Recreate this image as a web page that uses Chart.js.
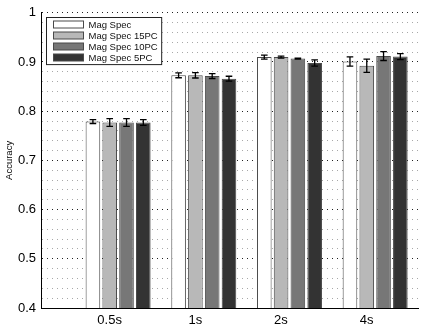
<!DOCTYPE html>
<html><head><meta charset="utf-8">
<script src="https://cdn.jsdelivr.net/npm/chart.js@4"></script>
<style>html,body{margin:0;padding:0;background:#fff;}#wrap{width:425px;height:327px;}</style>
</head><body><div id="wrap"><canvas id="c" width="425" height="327"></canvas></div>
<script>
// ---- data ----
const categories = ['0.5s', '1s', '2s', '4s'];
const seriesNames = ['Mag Spec', 'Mag Spec 15PC', 'Mag Spec 10PC', 'Mag Spec 5PC'];
const magSpec     = [0.779, 0.873, 0.910, 0.901];
const magSpec15PC = [0.777, 0.873, 0.910, 0.8925];
const magSpec10PC = [0.777, 0.8715, 0.907, 0.912];
const magSpec5PC  = [0.777, 0.866, 0.898, 0.911];
const errMagSpec  = [0.004, 0.005, 0.004, 0.0095];
const err15PC     = [0.008, 0.0055, 0.002, 0.0135];
const err10PC     = [0.008, 0.005, 0.001, 0.009];
const err5PC      = [0.006, 0.005, 0.0065, 0.006];
const yTickLabels = ['0.4', '0.5', '0.6', '0.7', '0.8', '0.9', '1'];

const seriesValues = [magSpec, magSpec15PC, magSpec10PC, magSpec5PC];
const seriesErrors = [errMagSpec, err15PC, err10PC, err5PC];
const fills = ['#ffffff', '#b8b8b8', '#777777', '#333333'];
const FONT = '"Liberation Sans", Arial, Helvetica, sans-serif';

const datasets = seriesNames.map((name, s) => ({
  label: name,
  data: categories.map((c, i) => ({x: i + 1, y: seriesValues[s][i]})),
  errors: seriesErrors[s],
  backgroundColor: fills[s],
  borderColor: '#4a4a4a',
  borderWidth: 1,
  categoryPercentage: 0.784,
  barPercentage: 0.87
}));

const errorBars = {
  id: 'errorBars',
  afterDatasetsDraw(chart) {
    const ctx = chart.ctx, ys = chart.scales.y;
    ctx.save();
    ctx.strokeStyle = '#000';
    ctx.lineWidth = 1.3;
    chart.data.datasets.forEach((ds, di) => {
      const meta = chart.getDatasetMeta(di);
      meta.data.forEach((bar, j) => {
        const v = ds.data[j].y, e = ds.errors[j];
        const x = bar.x, yt = ys.getPixelForValue(v + e), yb = ys.getPixelForValue(v - e);
        const cw = 3.3;
        ctx.beginPath();
        ctx.moveTo(x, yt); ctx.lineTo(x, yb);
        ctx.moveTo(x - cw, yt); ctx.lineTo(x + cw, yt);
        ctx.moveTo(x - cw, yb); ctx.lineTo(x + cw, yb);
        ctx.stroke();
      });
    });
    ctx.restore();
  }
};

const boxLegend = {
  id: 'boxLegend',
  afterDraw(chart) {
    const {ctx, chartArea} = chart;
    const x0 = Math.round(chartArea.left + 5) + 0.5, y0 = Math.round(chartArea.top + 4) + 0.5;
    const rowH = 10.9;
    ctx.save();
    ctx.font = '9.5px ' + FONT;
    let maxW = 0;
    chart.data.datasets.forEach(d => { maxW = Math.max(maxW, ctx.measureText(d.label).width); });
    const w = 42 + maxW + 4, h = rowH * 4 + 3.5;
    ctx.fillStyle = '#fff';
    ctx.fillRect(x0, y0, w, h);
    ctx.strokeStyle = '#222';
    ctx.lineWidth = 1;
    ctx.strokeRect(x0, y0, w, h);
    chart.data.datasets.forEach((d, i) => {
      const cy = y0 + 7.2 + i * rowH;
      ctx.fillStyle = d.backgroundColor;
      ctx.fillRect(x0 + 7, Math.round(cy - 3.5), 30, 7);
      ctx.strokeStyle = '#4a4a4a';
      ctx.strokeRect(x0 + 7, Math.round(cy - 3.5), 30, 7);
      ctx.fillStyle = '#111';
      ctx.textBaseline = 'middle';
      ctx.textAlign = 'left';
      ctx.fillText(d.label, x0 + 42, cy + 0.5);
    });
    ctx.restore();
  }
};

const isMajor = v => Math.abs(v * 10 - Math.round(v * 10)) < 1e-6;

new Chart(document.getElementById('c'), {
  type: 'bar',
  data: {datasets},
  options: {
    responsive: false,
    animation: false,
    layout: {padding: {left: 0, right: 7, top: 12, bottom: 0}},
    plugins: {legend: {display: false}, tooltip: {enabled: false}},
    scales: {
      x: {
        type: 'linear',
        offset: false,
        min: 0.1, max: 4.5,
        afterBuildTicks(scale) { scale.ticks = categories.map((c, i) => ({value: i + 1})); },
        afterFit(scale) { scale.height = 19; },
        grid: {display: false, drawTicks: false},
        border: {display: true, color: '#000', width: 1},
        ticks: {
          autoSkip: false,
          maxRotation: 0,
          padding: 5,
          labelOffset: -8.5,
          color: '#000',
          font: {family: FONT, size: 13},
          callback: (v) => categories[Math.round(v) - 1] ?? ''
        }
      },
      y: {
        min: 0.4, max: 1,
        afterFit(scale) { scale.width = 41; },
        title: {display: true, text: 'Accuracy', color: '#000', font: {family: FONT, size: 9.5}, padding: {top: 4, bottom: 0}},
        grid: {
          drawTicks: false,
          lineWidth: 1,
          color: (c) => isMajor(c.tick.value) ? '#222' : '#a8a8a8'
        },
        border: {display: true, color: '#000', width: 1, dash: [1, 4]},
        ticks: {
          stepSize: 0.02,
          autoSkip: false,
          padding: 5,
          color: '#000',
          font: {family: FONT, size: 13},
          callback: (v) => isMajor(v) ? yTickLabels[Math.round(v * 10) - 4] : ''
        }
      }
    }
  },
  plugins: [errorBars, boxLegend]
});
</script>
</body></html>
